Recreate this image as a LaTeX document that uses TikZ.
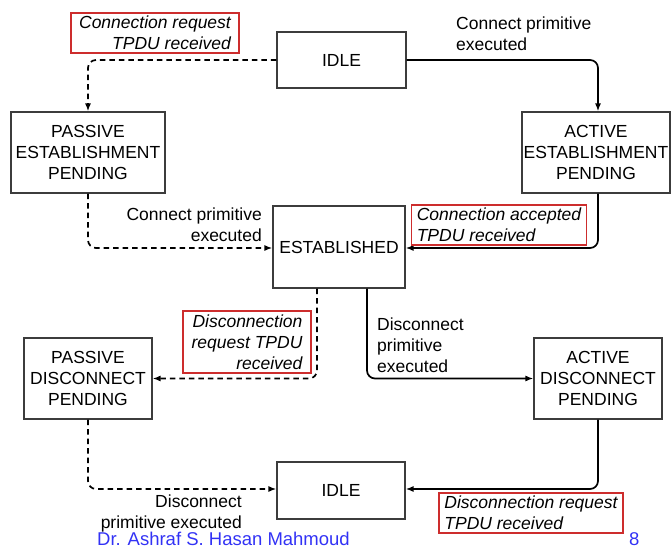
\documentclass[tikz,border=0pt]{standalone}
\usepackage{fontspec}
\setmainfont{Liberation Sans}
\usetikzlibrary{arrows.meta}
\definecolor{boxgray}{RGB}{60,60,60}
\definecolor{lblred}{RGB}{205,45,45}
\definecolor{footblue}{RGB}{50,50,245}
\tikzset{
  state/.style={draw=boxgray, line width=1.1pt, align=center, inner sep=0pt,
    font=\fontsize{17.5}{21}\selectfont},
  redlbl/.style={draw=lblred, line width=1.1pt, inner xsep=5pt, inner ysep=0pt,
    font=\fontsize{17.5}{21}\selectfont\itshape},
  plainlbl/.style={inner sep=0pt, font=\fontsize{17.5}{21}\selectfont},
  conn/.style={line width=1.7pt, rounded corners=8pt, -{Latex[length=8pt,width=6pt]}},
  dconn/.style={conn, dash pattern=on 5.5pt off 4pt}
}
\begin{document}
\begin{tikzpicture}[x=1pt,y=-1pt]
\useasboundingbox (0,0) rectangle (672,548);
% states
\node[state, minimum width=129pt, minimum height=56pt] (idleA) at (341.5,60) {IDLE};
\node[state, minimum width=154pt, minimum height=81pt] (pep) at (88,152.5) {PASSIVE\\ESTABLISHMENT\\PENDING};
\node[state, minimum width=148pt, minimum height=81pt] (aep) at (596,152.5) {ACTIVE\\ESTABLISHMENT\\PENDING};
\node[state, minimum width=132pt, minimum height=82pt] (est) at (339,247) {ESTABLISHED};
\node[state, minimum width=128pt, minimum height=81pt] (pdp) at (88,378.5) {PASSIVE\\DISCONNECT\\PENDING};
\node[state, minimum width=128pt, minimum height=81pt] (adp) at (598,378.5) {ACTIVE\\DISCONNECT\\PENDING};
\node[state, minimum width=128pt, minimum height=57pt] (idleB) at (341,490.5) {IDLE};
% connectors
\draw[dconn] (idleA.west) -| (pep.north);
\draw[conn] (idleA.east) -| ([xshift=2pt]aep.north);
\draw[dconn] (pep.south) |- ([yshift=-1pt]est.west);
\draw[conn] ([xshift=2pt]aep.south) |- ([yshift=-1pt]est.east);
\draw[dconn] ([xshift=-22pt]est.south) |- (pdp.east);
\draw[conn] ([xshift=28pt]est.south) |- (adp.west);
\draw[dconn] (pdp.south) |- ([yshift=1.5pt]idleB.west);
\draw[conn] (adp.south) |- ([yshift=1.5pt]idleB.east);
% labels
\node[redlbl, align=right, minimum width=168pt, minimum height=40pt] (l1) at (155,33) {Connection request\\TPDU received};
\node[plainlbl, align=left, anchor=north west] (l2) at (456,17) {Connect primitive\\executed};
\node[plainlbl, align=right, anchor=north east] (l3) at (262,208) {Connect primitive\\executed};
\node[redlbl, align=left, minimum width=168pt, minimum height=40pt] (l4) at (499,225) {Connection accepted\\TPDU received};
\node[redlbl, align=right, minimum width=128pt, minimum height=62pt] (l5) at (247,342) {Disconnection\\request TPDU\\received};
\node[plainlbl, align=left, anchor=north west] (l6) at (377,318) {Disconnect\\primitive\\executed};
\node[plainlbl, align=right, anchor=north east] (l7) at (242,495) {Disconnect\\primitive executed};
\node[redlbl, align=left, minimum width=184pt, minimum height=40pt] (l8) at (531,513) {Disconnection request\\TPDU received};
% footer
\node[inner sep=0pt, anchor=base west, text=footblue, font=\fontsize{18.5}{22}\selectfont] (foot) at (97,545.5) {Dr. Ashraf S. Hasan Mahmoud};
\node[inner sep=0pt, anchor=base west, text=footblue, font=\fontsize{18.5}{22}\selectfont] (pg) at (629,545.5) {8};
\end{tikzpicture}
\end{document}
